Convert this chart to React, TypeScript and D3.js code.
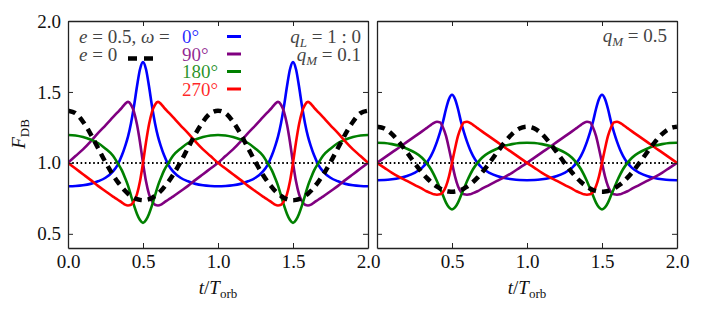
import { useEffect, useRef } from "react";
import * as d3 from "d3";

// one orbital period, sampled densely near periastron (t = 0.5); the curves repeat for t in [1, 2]
const phase = [0, 0.05, 0.1, 0.15, 0.2, 0.25, 0.3, 0.33, 0.36, 0.38, 0.4, 0.42, 0.44, 0.46, 0.48, 0.5,
  0.52, 0.54, 0.56, 0.58, 0.6, 0.62, 0.64, 0.67, 0.7, 0.75, 0.8, 0.85, 0.9, 0.95, 1.0];

// left panel, q_M = 0.1
const w0Low = [0.835, 0.837, 0.842, 0.852, 0.87, 0.895, 0.94, 0.985, 1.055, 1.115, 1.185, 1.28, 1.4, 1.54, 1.66, 1.71,
  1.66, 1.54, 1.4, 1.28, 1.185, 1.115, 1.055, 0.985, 0.94, 0.895, 0.87, 0.852, 0.842, 0.837, 0.835];
const w90Low = [1.0, 1.048, 1.095, 1.15, 1.21, 1.265, 1.322, 1.356, 1.39, 1.415, 1.43, 1.41, 1.36, 1.27, 1.145, 1.0,
  0.87, 0.78, 0.73, 0.705, 0.7, 0.706, 0.72, 0.742, 0.762, 0.8, 0.838, 0.88, 0.92, 0.96, 1.0];
const w180Low = [1.197, 1.193, 1.182, 1.165, 1.14, 1.1, 1.05, 1.0, 0.945, 0.895, 0.84, 0.77, 0.7, 0.64, 0.597, 0.577,
  0.597, 0.64, 0.7, 0.77, 0.84, 0.895, 0.945, 1.0, 1.05, 1.1, 1.14, 1.165, 1.182, 1.193, 1.197];
const w270Low = [1.0, 0.96, 0.92, 0.88, 0.838, 0.8, 0.762, 0.742, 0.72, 0.706, 0.7, 0.705, 0.73, 0.78, 0.87, 1.0,
  1.145, 1.27, 1.36, 1.41, 1.43, 1.415, 1.39, 1.356, 1.322, 1.265, 1.21, 1.15, 1.095, 1.048, 1.0];
const circLow = [1.368, 1.35, 1.29, 1.205, 1.105, 1.005, 0.915, 0.868, 0.828, 0.803, 0.783, 0.767, 0.753, 0.744, 0.739, 0.737,
  0.739, 0.744, 0.753, 0.767, 0.783, 0.803, 0.828, 0.868, 0.915, 1.005, 1.105, 1.205, 1.29, 1.35, 1.368];

// right panel, q_M = 0.5
const w0High = [0.878, 0.879, 0.884, 0.893, 0.908, 0.93, 0.965, 1.0, 1.05, 1.095, 1.15, 1.215, 1.29, 1.38, 1.45, 1.48,
  1.45, 1.38, 1.29, 1.215, 1.15, 1.095, 1.05, 1.0, 0.965, 0.93, 0.908, 0.893, 0.884, 0.879, 0.878];
const w90High = [1.0, 1.037, 1.074, 1.11, 1.148, 1.185, 1.222, 1.245, 1.268, 1.282, 1.29, 1.285, 1.25, 1.19, 1.1, 1.0,
  0.905, 0.835, 0.795, 0.778, 0.775, 0.778, 0.787, 0.8, 0.818, 0.845, 0.873, 0.9, 0.93, 0.965, 1.0];
const w180High = [1.142, 1.14, 1.132, 1.12, 1.1, 1.074, 1.036, 1.0, 0.955, 0.915, 0.87, 0.82, 0.77, 0.72, 0.686, 0.672,
  0.686, 0.72, 0.77, 0.82, 0.87, 0.915, 0.955, 1.0, 1.036, 1.074, 1.1, 1.12, 1.132, 1.14, 1.142];
const w270High = [1.0, 0.965, 0.93, 0.9, 0.873, 0.845, 0.818, 0.8, 0.787, 0.778, 0.775, 0.778, 0.795, 0.835, 0.905, 1.0,
  1.1, 1.19, 1.25, 1.285, 1.29, 1.282, 1.268, 1.245, 1.222, 1.185, 1.148, 1.11, 1.074, 1.037, 1.0];
const circHigh = [1.255, 1.242, 1.203, 1.143, 1.073, 1.0, 0.932, 0.896, 0.865, 0.847, 0.832, 0.819, 0.809, 0.802, 0.798, 0.796,
  0.798, 0.802, 0.809, 0.819, 0.832, 0.847, 0.865, 0.896, 0.932, 1.0, 1.073, 1.143, 1.203, 1.242, 1.255];

const xTicks = [0, 0.5, 1, 1.5, 2];
const yTicks = [0.5, 1, 1.5, 2];
const omegaLabels = ["0°", "90°", "180°", "270°"];
const colors = ["#0000ff", "#800080", "#008000", "#ff0000"];

const serif = "'Liberation Serif', 'Times New Roman', serif";

export default function App() {
  const ref = useRef<SVGSVGElement>(null);

  useEffect(() => {
    const svg = d3.select(ref.current);
    svg.selectAll("*").remove();

    const y = d3.scaleLinear().domain([0.4, 2.0]).range([248, 21]);
    const panels = [
      { left: 68, curves: [w0Low, w90Low, w180Low, w270Low], circ: circLow },
      { left: 377, curves: [w0High, w90High, w180High, w270High], circ: circHigh },
    ];

    // repeat the period so the curve covers 0..2
    const twoPeriods = (vals: number[]) =>
      phase.map((t, i) => [t, vals[i]] as [number, number])
        .concat(phase.slice(1).map((t, i) => [t + 1, vals[i + 1]] as [number, number]));

    panels.forEach((p, k) => {
      const x = d3.scaleLinear().domain([0, 2]).range([p.left, p.left + 300]);
      const line = d3.line<[number, number]>()
        .x((d) => x(d[0]))
        .y((d) => y(d[1]))
        .curve(d3.curveMonotoneX);

      svg.append("clipPath").attr("id", "clip" + k)
        .append("rect")
        .attr("x", p.left).attr("y", 21)
        .attr("width", 300).attr("height", 227);

      const plot = svg.append("g").attr("clip-path", `url(#clip${k})`);

      // unity reference
      plot.append("line")
        .attr("x1", p.left).attr("x2", p.left + 300)
        .attr("y1", y(1)).attr("y2", y(1))
        .attr("stroke", "black")
        .attr("stroke-width", 2)
        .attr("stroke-dasharray", "1.6,2.6");

      p.curves.forEach((vals, i) => {
        plot.append("path")
          .datum(twoPeriods(vals))
          .attr("d", line)
          .attr("fill", "none")
          .attr("stroke", colors[i])
          .attr("stroke-width", 2.6);
      });

      plot.append("path")
        .datum(twoPeriods(p.circ))
        .attr("d", line)
        .attr("fill", "none")
        .attr("stroke", "black")
        .attr("stroke-width", 4.5)
        .attr("stroke-dasharray", "8,6");

      // axes, ticks pointing inward on all four sides
      const styleAxis = (g: any) => {
        g.attr("font-family", serif).attr("font-size", 19);
        g.select(".domain").attr("stroke", "#222").attr("stroke-width", 1.3);
        g.selectAll(".tick line").attr("stroke", "#222").attr("stroke-width", 1);
        g.selectAll(".tick text").attr("fill", "#111");
      };
      svg.append("g")
        .attr("transform", "translate(0,248)")
        .call(d3.axisBottom(x).tickValues(xTicks).tickSize(-5).tickSizeOuter(0).tickPadding(7)
          .tickFormat((d: any) => (k === 1 && d === 0 ? "" : d3.format(".1f")(d))))
        .call(styleAxis);
      svg.append("g")
        .attr("transform", "translate(0,21)")
        .call(d3.axisTop(x).tickValues(xTicks).tickSize(-5).tickSizeOuter(0).tickFormat(() => ""))
        .call(styleAxis);
      svg.append("g")
        .attr("transform", `translate(${p.left},0)`)
        .call(d3.axisLeft(y).tickValues(yTicks).tickSize(-5).tickSizeOuter(0).tickPadding(7)
          .tickFormat((d: any) => (k === 0 ? d3.format(".1f")(d) : "")))
        .call(styleAxis);
      svg.append("g")
        .attr("transform", `translate(${p.left + 300},0)`)
        .call(d3.axisRight(y).tickValues(yTicks).tickSize(-5).tickSizeOuter(0).tickFormat(() => ""))
        .call(styleAxis);

      // x label
      const xl = svg.append("text")
        .attr("x", p.left + 150).attr("y", 294)
        .attr("text-anchor", "middle")
        .attr("font-family", serif).attr("font-size", 19).attr("fill", "#111");
      xl.append("tspan").attr("font-style", "italic").text("t");
      xl.append("tspan").text("/");
      xl.append("tspan").attr("font-style", "italic").text("T");
      xl.append("tspan").attr("font-size", 13).attr("dy", 4).text("orb");
    });

    // y label
    const yl = svg.append("text")
      .attr("transform", "translate(25,134) rotate(-90)")
      .attr("text-anchor", "middle")
      .attr("font-family", serif).attr("font-size", 19).attr("fill", "#111");
    yl.append("tspan").attr("font-style", "italic").text("F");
    yl.append("tspan").attr("font-size", 13).attr("dy", 4).text("DB");

    // legend, left panel
    const gray = "#444";
    const rows = [43, 60.5, 78, 95.5];
    const l1 = svg.append("text").attr("x", 79).attr("y", rows[0])
      .attr("font-family", serif).attr("font-size", 19).attr("fill", gray);
    l1.append("tspan").attr("font-style", "italic").text("e");
    l1.append("tspan").text(" = 0.5, ");
    l1.append("tspan").attr("font-style", "italic").text("ω");
    l1.append("tspan").text(" =");

    const l2 = svg.append("text").attr("x", 79).attr("y", rows[1])
      .attr("font-family", serif).attr("font-size", 19).attr("fill", gray);
    l2.append("tspan").attr("font-style", "italic").text("e");
    l2.append("tspan").text(" = 0");
    svg.append("line")
      .attr("x1", 128).attr("x2", 153).attr("y1", rows[1] - 2).attr("y2", rows[1] - 2)
      .attr("stroke", "black").attr("stroke-width", 4.5).attr("stroke-dasharray", "9,7");

    omegaLabels.forEach((lab, i) => {
      svg.append("text").attr("x", 182).attr("y", rows[i])
        .attr("font-family", serif).attr("font-size", 19).attr("fill", colors[i])
        .attr("fill-opacity", 0.85)
        .text(lab);
      svg.append("line")
        .attr("x1", 227).attr("x2", 241)
        .attr("y1", rows[i] - 6.5).attr("y2", rows[i] - 6.5)
        .attr("stroke", colors[i]).attr("stroke-width", 3);
    });

    const qL = svg.append("text").attr("x", 361).attr("y", rows[0]).attr("text-anchor", "end")
      .attr("font-family", serif).attr("font-size", 19).attr("fill", gray);
    qL.append("tspan").attr("font-style", "italic").text("q");
    qL.append("tspan").attr("font-style", "italic").attr("font-size", 13).attr("dy", 4).text("L");
    qL.append("tspan").attr("dy", -4).text(" = 1 : 0");

    const qM = svg.append("text").attr("x", 361).attr("y", rows[1]).attr("text-anchor", "end")
      .attr("font-family", serif).attr("font-size", 19).attr("fill", gray);
    qM.append("tspan").attr("font-style", "italic").text("q");
    qM.append("tspan").attr("font-style", "italic").attr("font-size", 13).attr("dy", 4).text("M");
    qM.append("tspan").attr("dy", -4).text(" = 0.1");

    // right panel label
    const qM2 = svg.append("text").attr("x", 667).attr("y", 42).attr("text-anchor", "end")
      .attr("font-family", serif).attr("font-size", 19).attr("fill", gray);
    qM2.append("tspan").attr("font-style", "italic").text("q");
    qM2.append("tspan").attr("font-style", "italic").attr("font-size", 13).attr("dy", 4).text("M");
    qM2.append("tspan").attr("dy", -4).text(" = 0.5");
  }, []);

  return (
    <svg
      ref={ref}
      width={701}
      height={309}
      style={{ position: "absolute", left: 0, top: 0, background: "white" }}
    />
  );
}
